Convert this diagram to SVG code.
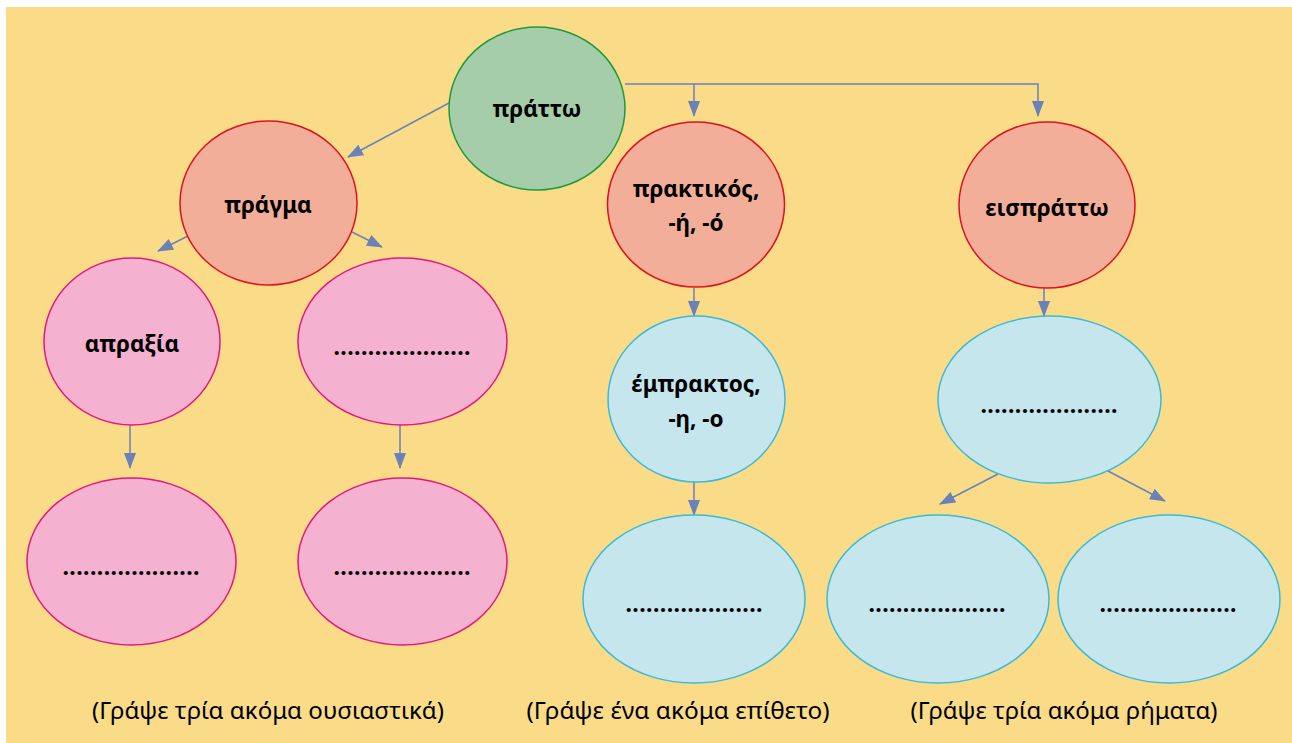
<svg xmlns="http://www.w3.org/2000/svg" width="1292" height="743" viewBox="0 0 1292 743">
<style>
.bg{fill:#FADC88}
.g{fill:#A5CDAA;stroke:#1E9A3C;stroke-width:1.5}
.s{fill:#F2AE98;stroke:#E0101E;stroke-width:1.5}
.p{fill:#F4B2D0;stroke:#E5177A;stroke-width:1.5}
.b{fill:#C5E6EC;stroke:#3CB9D4;stroke-width:1.5}
.t{font-family:"Noto Sans","DejaVu Sans",sans-serif;font-weight:bold;font-size:22.5px;fill:#000;text-anchor:middle;dominant-baseline:central}
.d{font-family:"Noto Sans","DejaVu Sans",sans-serif;font-weight:bold;font-size:23px;fill:#000;text-anchor:middle}
.l{font-family:"Noto Sans","DejaVu Sans",sans-serif;font-size:24px;fill:#000;text-anchor:middle;dominant-baseline:central}
.c{stroke:#6A82B6;stroke-width:1.5;fill:none}
</style>
<defs>
<marker id="ah" markerWidth="16" markerHeight="12" refX="15" refY="6" orient="auto" markerUnits="userSpaceOnUse">
<path d="M0,0 L16,6 L0,12 Z" fill="#6A82B6"/>
</marker>
</defs>
<rect class="bg" x="6" y="7" width="1286" height="736"/>
<g id="connectors">
<line class="c" x1="449" y1="103" x2="348" y2="157" marker-end="url(#ah)"/>
<polyline class="c" points="625,84 1038,84 1038,116" marker-end="url(#ah)"/>
<line class="c" x1="694" y1="84" x2="694" y2="116" marker-end="url(#ah)"/>
<line class="c" x1="190" y1="235" x2="158" y2="251" marker-end="url(#ah)"/>
<line class="c" x1="352" y1="232" x2="382" y2="247" marker-end="url(#ah)"/>
<line class="c" x1="130" y1="425" x2="130" y2="468" marker-end="url(#ah)"/>
<line class="c" x1="400" y1="425" x2="400" y2="468" marker-end="url(#ah)"/>
<line class="c" x1="694" y1="288" x2="694" y2="316" marker-end="url(#ah)"/>
<line class="c" x1="694" y1="482" x2="694" y2="515" marker-end="url(#ah)"/>
<line class="c" x1="1044" y1="288" x2="1044" y2="316" marker-end="url(#ah)"/>
<line class="c" x1="998" y1="474" x2="940" y2="504" marker-end="url(#ah)"/>
<line class="c" x1="1108" y1="471" x2="1165" y2="501" marker-end="url(#ah)"/>
</g>
<g id="prattw"><ellipse class="g" cx="537" cy="108.5" rx="88" ry="81.5"/><text class="t" x="537" y="108">πράττω</text></g>
<g id="pragma"><ellipse class="s" cx="268.5" cy="203" rx="88.5" ry="82"/><text class="t" x="268" y="204">πράγμα</text></g>
<g id="praktikos"><ellipse class="s" cx="696" cy="204.5" rx="88.5" ry="82.5"/><text class="t" x="696" y="188">πρακτικός,</text><text class="t" x="696" y="222">-ή, -ό</text></g>
<g id="eisprattw"><ellipse class="s" cx="1047" cy="205" rx="88" ry="83"/><text class="t" x="1047" y="207">εισπράττω</text></g>
<g id="apraxia"><ellipse class="p" cx="132" cy="341.5" rx="88" ry="83.5"/><text class="t" x="132" y="343">απραξία</text></g>
<g id="pink2"><ellipse class="p" cx="402.5" cy="341.5" rx="104.5" ry="83.5"/><text class="d" x="402" y="355" textLength="137" lengthAdjust="spacing">....................</text></g>
<g id="pink3"><ellipse class="p" cx="131.5" cy="561.5" rx="104.5" ry="83.5"/><text class="d" x="131" y="575" textLength="137" lengthAdjust="spacing">....................</text></g>
<g id="pink4"><ellipse class="p" cx="402.5" cy="561.5" rx="104.5" ry="83.5"/><text class="d" x="402" y="575" textLength="137" lengthAdjust="spacing">....................</text></g>
<g id="empraktos"><ellipse class="b" cx="696.5" cy="399" rx="88.5" ry="83"/><text class="t" x="696" y="383">έμπρακτος,</text><text class="t" x="696" y="418">-η, -ο</text></g>
<g id="blue2"><ellipse class="b" cx="694" cy="599" rx="111" ry="84"/><text class="d" x="694" y="612" textLength="137" lengthAdjust="spacing">....................</text></g>
<g id="blue3"><ellipse class="b" cx="1049.5" cy="399.5" rx="111.5" ry="83.5"/><text class="d" x="1049" y="413" textLength="137" lengthAdjust="spacing">....................</text></g>
<g id="blue4"><ellipse class="b" cx="938" cy="599" rx="111" ry="84"/><text class="d" x="937" y="612" textLength="137" lengthAdjust="spacing">....................</text></g>
<g id="blue5"><ellipse class="b" cx="1169" cy="599" rx="111" ry="84"/><text class="d" x="1168" y="612" textLength="137" lengthAdjust="spacing">....................</text></g>
<g id="labels">
<text class="l" x="268" y="709" textLength="352" lengthAdjust="spacingAndGlyphs">(Γράψε τρία ακόμα ουσιαστικά)</text>
<text class="l" x="678" y="709" textLength="303" lengthAdjust="spacingAndGlyphs">(Γράψε ένα ακόμα επίθετο)</text>
<text class="l" x="1064" y="709" textLength="307" lengthAdjust="spacingAndGlyphs">(Γράψε τρία ακόμα ρήματα)</text>
</g>
</svg>
